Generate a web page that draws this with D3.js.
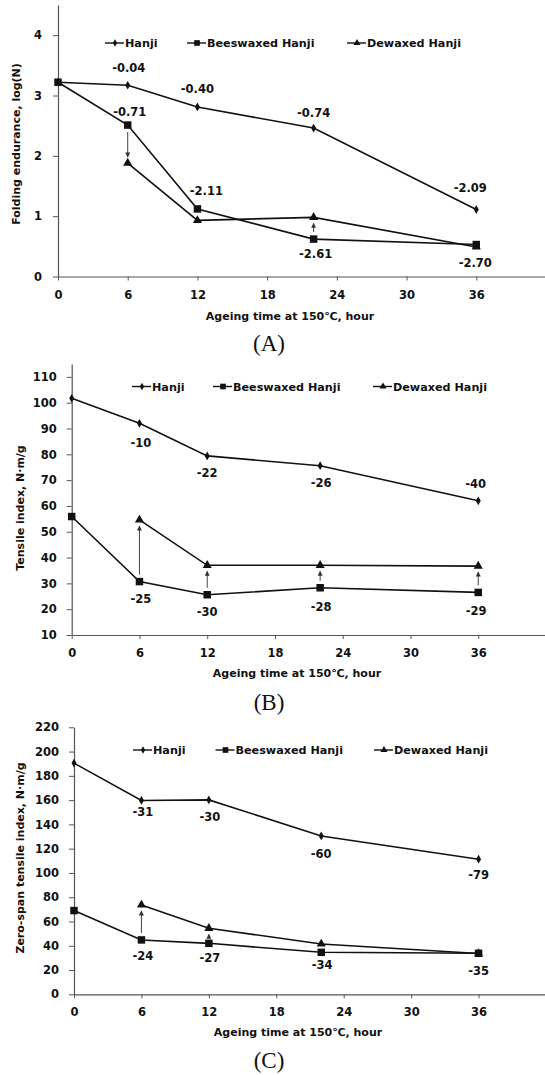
<!DOCTYPE html>
<html>
<head>
<meta charset="utf-8">
<script src="https://cdn.jsdelivr.net/npm/d3@7"></script>
<style>
  body { margin: 0; background: #fff; }
  svg { display: block; }
  text { font-family: "DejaVu Sans", Verdana, sans-serif; font-weight: bold; fill: #111; }
  .caption { font-family: "Liberation Serif", "Times New Roman", serif; font-weight: normal; }
</style>
</head>
<body>
<svg id="chart" width="545" height="1075"></svg>
<script>

// ageing hours
const hours = [0, 6, 12, 22, 36];
const seriesNames = ["Hanji", "Beeswaxed Hanji", "Dewaxed Hanji"];
const xTicks = [0, 6, 12, 18, 24, 30, 36];

// (A) folding endurance, log(N)
const foldHanji = [3.22, 3.17, 2.81, 2.46, 1.11];
const foldBees = [3.22, 2.51, 1.12, 0.62, 0.53];
const foldDewax = [null, 1.88, 0.93, 0.98, 0.49];
const foldHanjiLabels = ["-0.04", "-0.40", "-0.74", "-2.09"];
const foldBeesLabels = ["-0.71", "-2.11", "-2.61", "-2.70"];
const foldArrows = [6, 22];
const foldTicks = [0, 1, 2, 3, 4];

// (B) tensile index
const tensileHanji = [101.7, 92, 79.4, 75.6, 62];
const tensileBees = [55.9, 30.7, 25.6, 28.3, 26.5];
const tensileDewax = [null, 54.6, 37, 37, 36.7];
const tensileHanjiLabels = ["-10", "-22", "-26", "-40"];
const tensileBeesLabels = ["-25", "-30", "-28", "-29"];
const tensileArrows = [6, 12, 22, 36];
const tensileTicks = d3.range(10, 111, 10);

// (C) zero-span tensile index
const zeroHanji = [190.5, 159.7, 160.2, 130.5, 111.3];
const zeroBees = [69, 44.8, 42, 34.6, 33.8];
const zeroDewax = [null, 73.6, 54.4, 41.5, 33.6];
const zeroHanjiLabels = ["-31", "-30", "-60", "-79"];
const zeroBeesLabels = ["-24", "-27", "-34", "-35"];
const zeroArrows = [6, 12];
const zeroTicks = d3.range(0, 221, 20);

const svg = d3.select("#chart");

svg.append("defs").append("marker")
  .attr("id", "head")
  .attr("viewBox", "0 0 10 10")
  .attr("refX", 9).attr("refY", 5)
  .attr("markerWidth", 6).attr("markerHeight", 5)
  .attr("markerUnits", "userSpaceOnUse")
  .attr("orient", "auto")
  .append("path")
  .attr("d", "M0,0 L10,5 L0,10 Z")
  .attr("fill", "#333");

const symbols = [
  d3.symbol().type(d3.symbolDiamond).size(22),
  d3.symbol().type(d3.symbolSquare).size(56),
  d3.symbol().type(d3.symbolTriangle).size(36)
];
const legendSymbols = [
  d3.symbol().type(d3.symbolDiamond).size(16),
  d3.symbol().type(d3.symbolSquare).size(32),
  d3.symbol().type(d3.symbolTriangle).size(22)
];

function drawPanel(p) {
  let x = d3.scaleLinear().domain([0, 42]).range([p.left, 546]);
  let y = d3.scaleLinear().domain(p.yDomain).range([p.bottom, p.top]);
  let g = svg.append("g");

  // axes
  let xAxis = g.append("g")
    .attr("transform", `translate(0,${p.bottom})`)
    .call(d3.axisBottom(x).tickValues(xTicks).tickSize(4).tickPadding(10).tickSizeOuter(0));
  let yAxis = g.append("g")
    .attr("transform", `translate(${p.left},0)`)
    .call(d3.axisLeft(y).tickValues(p.yTicks).tickFormat(d3.format("~g"))
      .tickSize(5).tickPadding(p.yPad).tickSizeOuter(0));
  [xAxis, yAxis].forEach(a => {
    a.select(".domain").attr("stroke", "#555").attr("stroke-width", 1.2);
    a.selectAll(".tick line").attr("stroke", "#555");
    a.selectAll("text").attr("font-size", 11.5).attr("font-family", null).attr("fill", "#111");
  });

  // series lines + markers
  let series = [p.hanji, p.bees, p.dewax];
  let line = d3.line()
    .defined(d => d[1] != null)
    .x(d => x(d[0])).y(d => y(d[1]));
  series.forEach((vals, i) => {
    let pts = hours.map((h, j) => [h, vals[j]]);
    g.append("path")
      .attr("d", line(pts))
      .attr("fill", "none")
      .attr("stroke", "#111")
      .attr("stroke-width", 1.6);
    g.selectAll(null)
      .data(pts.filter(d => d[1] != null))
      .enter().append("path")
      .attr("d", symbols[i])
      .attr("transform", d => `translate(${x(d[0])},${y(d[1])})`)
      .attr("fill", "#111");
  });

  // arrows from beeswaxed to dewaxed
  p.arrows.forEach(h => {
    let j = hours.indexOf(h);
    let y0 = y(p.bees[j]), y1 = y(p.dewax[j]);
    let dir = y1 < y0 ? -1 : 1;
    g.append("line")
      .attr("x1", x(h)).attr("x2", x(h))
      .attr("y1", y0 + dir * 7)
      .attr("y2", y1 - dir * 6)
      .attr("stroke", "#444")
      .attr("stroke-width", 1)
      .attr("marker-end", "url(#head)");
  });

  // change labels
  [[p.hanjiLabels, p.hanji, p.hanjiOff], [p.beesLabels, p.bees, p.beesOff]].forEach(([labels, vals, off]) => {
    labels.forEach((t, k) => {
      g.append("text")
        .attr("x", x(hours[k + 1]) + off[k][0])
        .attr("y", y(vals[k + 1]) + off[k][1])
        .attr("dy", "0.36em")
        .attr("text-anchor", "middle")
        .attr("font-size", 11.5)
        .text(t);
    });
  });

  // legend
  seriesNames.forEach((name, i) => {
    let lx = p.legendX[i];
    g.append("line")
      .attr("x1", lx).attr("x2", lx + 19)
      .attr("y1", p.legendY).attr("y2", p.legendY)
      .attr("stroke", "#111").attr("stroke-width", 1.4);
    g.append("path")
      .attr("d", legendSymbols[i])
      .attr("transform", `translate(${lx + 10},${p.legendY})`)
      .attr("fill", "#111");
    g.append("text")
      .attr("x", lx + 20)
      .attr("y", p.legendY)
      .attr("dy", "0.36em")
      .attr("font-size", 11.2)
      .text(name);
  });

  // axis titles
  g.append("text")
    .attr("x", p.xTitle[0]).attr("y", p.xTitle[1])
    .attr("dy", "0.36em")
    .attr("text-anchor", "middle")
    .attr("font-size", 11)
    .text("Ageing time at 150\u2103, hour");
  g.append("text")
    .attr("transform", `translate(${p.yTitle[0]},${p.yTitle[1]}) rotate(-90)`)
    .attr("dy", "0.36em")
    .attr("text-anchor", "middle")
    .attr("font-size", 11)
    .text(p.yLabel);

  g.append("text")
    .attr("class", "caption")
    .attr("x", 269).attr("y", p.captionY)
    .attr("dy", "0.35em")
    .attr("text-anchor", "middle")
    .attr("font-size", 23)
    .text(p.caption);
}

drawPanel({
  left: 58, top: 5, bottom: 276.5, yDomain: [0, 4.5], yTicks: foldTicks, yPad: 11,
  hanji: foldHanji, bees: foldBees, dewax: foldDewax,
  hanjiLabels: foldHanjiLabels, beesLabels: foldBeesLabels,
  hanjiOff: [[1, -17], [0, -18], [0, -15], [-6, -22]],
  beesOff: [[2, -13], [9, -18], [2, 15], [-1, 18]],
  arrows: foldArrows,
  legendX: [105, 187, 347], legendY: 43,
  xTitle: [290, 316], yTitle: [16, 144], yLabel: "Folding endurance, log(N)",
  caption: "(A)", captionY: 343
});

drawPanel({
  left: 71.7, top: 364, bottom: 635, yDomain: [10, 115], yTicks: tensileTicks, yPad: 10,
  hanji: tensileHanji, bees: tensileBees, dewax: tensileDewax,
  hanjiLabels: tensileHanjiLabels, beesLabels: tensileBeesLabels,
  hanjiOff: [[1.5, 19], [0, 17], [1, 17], [-2.5, -17]],
  beesOff: [[1.5, 17], [0, 17], [1, 19], [-2, 18]],
  arrows: tensileArrows,
  legendX: [132, 213, 373], legendY: 386.5,
  xTitle: [297, 673], yTitle: [20, 508], yLabel: "Tensile index, N\u00b7m/g",
  caption: "(B)", captionY: 702
});

drawPanel({
  left: 74, top: 727.3, bottom: 994.3, yDomain: [0, 220], yTicks: zeroTicks, yPad: 10,
  hanji: zeroHanji, bees: zeroBees, dewax: zeroDewax,
  hanjiLabels: zeroHanjiLabels, beesLabels: zeroBeesLabels,
  hanjiOff: [[1.5, 11], [1, 17], [0, 18], [0, 16]],
  beesOff: [[1.5, 16], [1, 15], [1, 13], [0, 18]],
  arrows: zeroArrows,
  legendX: [133, 215.5, 374], legendY: 750,
  xTitle: [298, 1032.5], yTitle: [20, 858], yLabel: "Zero-span tensile index, N\u00b7m/g",
  caption: "(C)", captionY: 1060
});

</script>
</body>
</html>
